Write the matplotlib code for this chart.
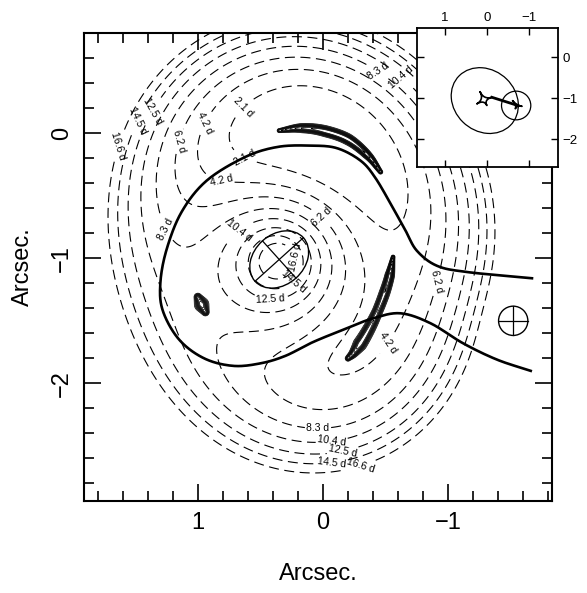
import numpy as np
import matplotlib
matplotlib.use("Agg")
import matplotlib.pyplot as plt
from matplotlib.patches import Ellipse, Circle

plt.rcParams['font.family'] = ['Liberation Sans', 'DejaVu Sans']

# ---------------- data ----------------
# lens galaxies
g1_center = (0.35, -1.01)
g1_semi_axes = (0.26, 0.20)
g1_angle = 138.0
g2_center = (-1.52, -1.50)
g2_radius = 0.117

# time-delay contour levels (days)
delay_levels = [2.1, 4.2, 6.2, 8.3, 10.4, 12.5, 14.5, 16.6]
# contour label positions (arcsec) and the level they belong to
label_x = [1.62, 1.48, 1.37, 1.17, 0.94, 0.61, -0.44, -0.63, 0.82, 0.64, -0.02, 0.69,
           1.28, 0.22, 0.24, 0.42, 0.04, -0.07, -0.16, -0.07, -0.30, -0.58, -0.90]
label_y = [-0.11, 0.10, 0.18, -0.06, 0.08, 0.18, 0.50, 0.45, -0.43, -0.22, -0.64, -0.75,
           -0.78, -0.99, -1.18, -1.30, -2.35, -2.46, -2.55, -2.62, -2.66, -1.72, -1.18]
label_level = [16.6, 14.5, 12.5, 6.2, 4.2, 2.1, 8.3, 10.4, 4.2, 2.1, 6.2, 10.4,
               8.3, 16.6, 14.5, 12.5, 8.3, 10.4, 12.5, 14.5, 16.6, 4.2, 6.2]
# image positions (stationary points of the delay surface)
image_x = [-0.08, -0.54, -0.30, 0.97]
image_y = [-0.02, -1.12, -1.68, -1.37]

# critical curve (thick line)
crit_x = [-1.67, -1.15, -0.91, -0.75, -0.66, -0.56, -0.42, -0.30, -0.11, 0.10, 0.36, 0.62,
          0.93, 1.13, 1.25, 1.30, 1.28, 1.15, 0.95, 0.72, 0.50, 0.30, 0.08, -0.19, -0.40,
          -0.62, -0.86, -1.12, -1.39, -1.66]
crit_y = [-1.16, -1.11, -1.06, -0.94, -0.78, -0.60, -0.36, -0.22, -0.12, -0.10, -0.11, -0.19,
          -0.38, -0.63, -0.93, -1.20, -1.42, -1.65, -1.80, -1.86, -1.84, -1.78, -1.67, -1.56, -1.48,
          -1.44, -1.52, -1.68, -1.81, -1.90]

# lensed images: centre lines, widths and brightness along them
arcA_x = [0.35, 0.18, 0.00, -0.20, -0.36, -0.46]
arcA_y = [0.02, 0.04, 0.02, -0.05, -0.18, -0.31]
arcA_w = [0.008, 0.015, 0.017, 0.017, 0.014, 0.008]
arcA_b = [0.25, 0.7, 1.0, 1.0, 0.8, 0.35]
arcB_x = [-0.56, -0.53, -0.48, -0.41, -0.33, -0.25, -0.20]
arcB_y = [-0.99, -1.15, -1.31, -1.48, -1.63, -1.75, -1.80]
arcB_w = [0.007, 0.015, 0.017, 0.017, 0.019, 0.021, 0.010]
arcB_b = [0.35, 0.9, 0.8, 0.7, 0.9, 1.0, 0.4]
arcC_x = [1.00, 0.97, 0.94]
arcC_y = [-1.31, -1.37, -1.43]
arcC_w = [0.013, 0.022, 0.013]
arcC_b = [0.5, 1.0, 0.5]

# inset (source plane): cuts and caustics
inset_cut1 = dict(center=(0.05, -1.06), a=0.86, b=0.74, angle=45.0)
inset_cut2 = dict(center=(-0.70, -1.18), r=0.35)
caustic1_x = [0.16, 0.24, 0.00, -0.12]
caustic1_y = [-0.85, -1.14, -1.18, -0.98]
caustic2_x = [-0.62, -0.84, -0.68]
caustic2_y = [-1.07, -1.20, -1.26]
fold_x = [-0.12, -0.74]
fold_y = [-0.98, -1.18]

# ---------------- delay surface: lens model fitted to the labels ----------------
def basis(x, y):
    r1 = np.hypot(x - g1_center[0], y - g1_center[1])
    r2 = np.hypot(x - g2_center[0], y - g2_center[1])
    return np.stack([0.5 * (x**2 + y**2), x, y, np.ones_like(x), -r1, -r2,
                     -0.5 * (x**2 - y**2), -x * y], axis=-1)

def basis_grad(x, y):
    dx1, dy1 = x - g1_center[0], y - g1_center[1]
    dx2, dy2 = x - g2_center[0], y - g2_center[1]
    r1 = np.hypot(dx1, dy1); r2 = np.hypot(dx2, dy2)
    z = np.zeros_like(x); o = np.ones_like(x)
    gx = np.stack([x, o, z, z, -dx1 / r1, -dx2 / r2, -x, -y], axis=-1)
    gy = np.stack([y, z, o, z, -dy1 / r1, -dy2 / r2, y, -x], axis=-1)
    return gx, gy

lx, ly, ll = map(np.asarray, (label_x, label_y, label_level))
ix, iy = np.asarray(image_x), np.asarray(image_y)
wg = 0.25
gx, gy = basis_grad(ix, iy)
Amat = np.vstack([basis(lx, ly), wg * gx, wg * gy])
bvec = np.concatenate([ll, np.zeros(2 * len(ix))])
coef, *_ = np.linalg.lstsq(Amat, bvec, rcond=None)

xs = np.linspace(-1.95, 1.97, 600)
ys = np.linspace(-3.0, 0.86, 600)
X, Y = np.meshgrid(xs, ys)
T = basis(X, Y) @ coef

# ---------------- helpers ----------------
def catmull_rom(px, py, n=16):
    P = np.column_stack([px, py]).astype(float)
    P = np.vstack([2 * P[0] - P[1], P, 2 * P[-1] - P[-2]])
    out = []
    t = np.linspace(0, 1, n, endpoint=False)[:, None]
    for i in range(1, len(P) - 2):
        p0, p1, p2, p3 = P[i - 1], P[i], P[i + 1], P[i + 2]
        out.append(0.5 * (2 * p1 + (-p0 + p2) * t + (2 * p0 - 5 * p1 + 4 * p2 - p3) * t ** 2
                          + (-p0 + 3 * p1 - 3 * p2 + p3) * t ** 3))
    out.append(P[-2][None])
    return np.vstack(out)

def arc_field(px, py, pw, pb, pad=0.09, res=0.003):
    C = catmull_rom(px, py, 24)
    seg = np.hypot(*np.diff(C, axis=0).T)
    s = np.concatenate([[0], np.cumsum(seg)]); s /= s[-1]
    s_knots = np.linspace(0, 1, len(px))
    w = np.interp(s, s_knots, pw); b = np.interp(s, s_knots, pb)
    gxs = np.arange(min(px) - pad, max(px) + pad, res)
    gys = np.arange(min(py) - pad, max(py) + pad, res)
    GX, GY = np.meshgrid(gxs, gys)
    d2 = (GX[..., None] - C[:, 0]) ** 2 + (GY[..., None] - C[:, 1]) ** 2
    I = (b * np.exp(-d2 / (2 * w ** 2))).max(axis=-1)
    return GX, GY, I

def cusped(px, py, n=30):
    P = np.column_stack([px, py]).astype(float)
    c = P.mean(axis=0)
    t = np.linspace(0, 1, n)[:, None]
    out = []
    for i in range(len(P)):
        a, b = P[i], P[(i + 1) % len(P)]
        out.append((1 - t) ** 2 * a + 2 * t * (1 - t) * c + t ** 2 * b)
    return np.vstack(out)

# ---------------- figure ----------------
fig = plt.figure(figsize=(5.87, 5.93), dpi=100)
ax = fig.add_axes([84 / 587, 1 - 501 / 593, 468 / 587, 468 / 593])

cs = ax.contour(X, Y, T, levels=delay_levels, colors='k', linewidths=0.8)
cs.set_linestyle((0, (9, 5)))
ax.clabel(cs, manual=list(zip(label_x, label_y)), fmt=lambda v: f"{v:.1f} d",
          fontsize=7.5, inline=True, inline_spacing=1)

cc = catmull_rom(crit_x, crit_y)
ax.plot(cc[:, 0], cc[:, 1], color='k', lw=1.9)

arc_levels = [0.03, 0.06, 0.1, 0.15, 0.21, 0.28, 0.36, 0.45, 0.55, 0.67, 0.8]
for px, py, pw, pb in ((arcA_x, arcA_y, arcA_w, arcA_b), (arcB_x, arcB_y, arcB_w, arcB_b),
                       (arcC_x, arcC_y, arcC_w, arcC_b)):
    GX, GY, I = arc_field(px, py, pw, pb)
    ax.contour(GX, GY, I, levels=arc_levels, colors='k', linewidths=0.5)

ax.add_patch(Ellipse(g1_center, 2 * g1_semi_axes[0], 2 * g1_semi_axes[1], angle=g1_angle,
                     fill=False, lw=1.0, color='k'))
for ang, l in ((g1_angle, g1_semi_axes[0]), (g1_angle + 90, g1_semi_axes[1])):
    dx, dy = l * np.cos(np.radians(ang)), l * np.sin(np.radians(ang))
    ax.plot([g1_center[0] - dx, g1_center[0] + dx], [g1_center[1] - dy, g1_center[1] + dy], 'k', lw=0.9)
ax.add_patch(Circle(g2_center, g2_radius, fill=False, lw=1.0, color='k'))
ax.plot([g2_center[0] - g2_radius, g2_center[0] + g2_radius], [g2_center[1]] * 2, 'k', lw=0.9)
ax.plot([g2_center[0]] * 2, [g2_center[1] - g2_radius, g2_center[1] + g2_radius], 'k', lw=0.9)

ax.set_xlim(1.91, -1.83)
ax.set_ylim(-2.94, 0.80)
ax.set_xticks([1, 0, -1]); ax.set_yticks([0, -1, -2])
ax.set_xticks(np.arange(-1.8, 1.81, 0.2), minor=True)
ax.set_yticks(np.arange(-2.8, 0.81, 0.2), minor=True)
ax.set_xticklabels(['1', '0', '\u22121']); ax.set_yticklabels(['0', '\u22121', '\u22122'])
ax.tick_params(which='both', direction='in', top=True, right=True, labelsize=17, width=1.2)
ax.tick_params(which='major', length=12, pad=8)
ax.tick_params(which='minor', length=7)
for lab in ax.get_yticklabels():
    lab.set_rotation(90); lab.set_va('center')
for sp in ax.spines.values():
    sp.set_linewidth(1.5)
ax.set_xlabel('Arcsec.', fontsize=17, labelpad=21)
ax.set_ylabel('Arcsec.', fontsize=17, labelpad=12)

# inset
axi = fig.add_axes([417 / 587, 1 - 167 / 593, 141 / 587, 139 / 593])
axi.add_patch(Ellipse(inset_cut1['center'], 2 * inset_cut1['a'], 2 * inset_cut1['b'],
                      angle=inset_cut1['angle'], fill=False, lw=0.9, color='k'))
axi.add_patch(Circle(inset_cut2['center'], inset_cut2['r'], fill=False, lw=0.9, color='k'))
c1 = cusped(caustic1_x, caustic1_y)
axi.plot(c1[:, 0], c1[:, 1], 'k', lw=1.2)
c2 = cusped(caustic2_x, caustic2_y)
axi.plot(c2[:, 0], c2[:, 1], 'k', lw=1.2)
axi.plot(fold_x, fold_y, 'k', lw=2.0)
axi.set_xlim(1.67, -1.70); axi.set_ylim(-2.68, 0.71)
axi.set_xticks([1, 0, -1]); axi.set_yticks([0, -1, -2])
axi.set_xticklabels(['1', '0', '\u22121']); axi.set_yticklabels(['0', '\u22121', '\u22122'])
axi.tick_params(direction='in', top=True, right=True, bottom=True, left=True,
                labeltop=True, labelbottom=False, labelright=True, labelleft=False,
                labelsize=9.5, length=5, width=1.0, pad=3)
for sp in axi.spines.values():
    sp.set_linewidth(1.3)

fig.savefig('out.png', dpi=100)
